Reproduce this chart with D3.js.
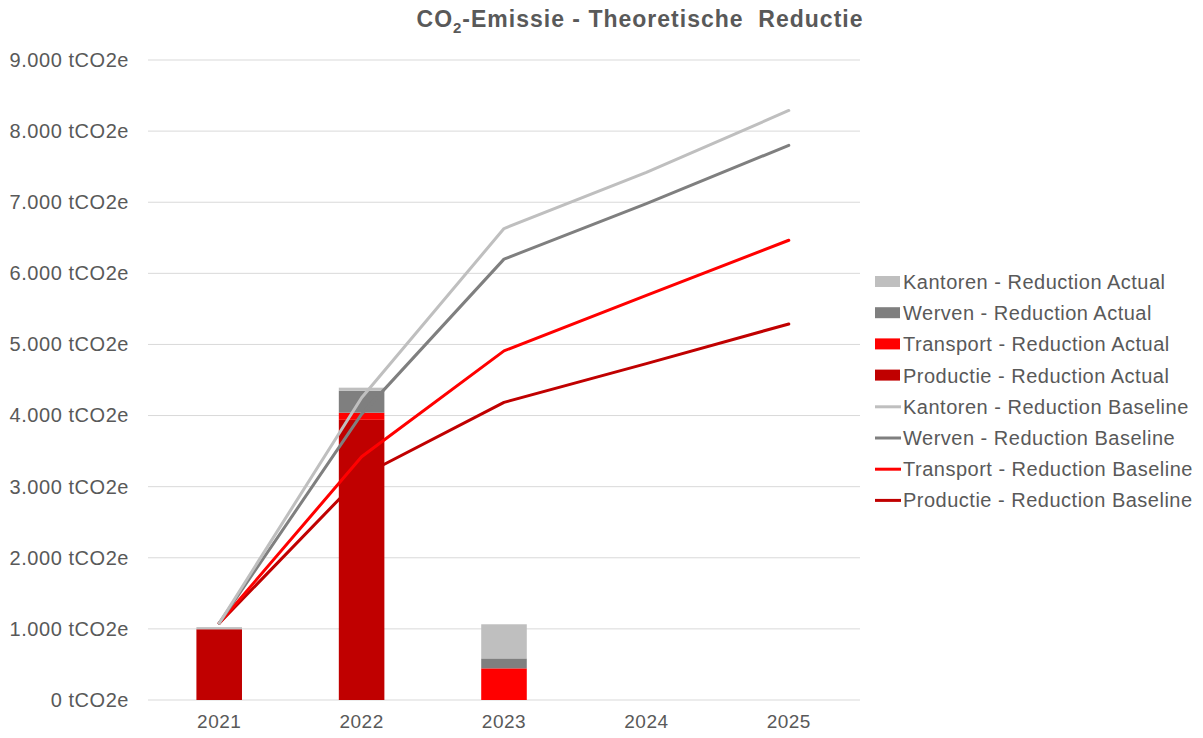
<!DOCTYPE html>
<html>
<head>
<meta charset="utf-8">
<script src="https://cdn.jsdelivr.net/npm/d3@7"></script>
<style>
  body { margin: 0; background: #fff; }
  text { font-family: "Liberation Sans", Arial, sans-serif; fill: #595959; }
</style>
</head>
<body>
<script>
//categories and series
var years = ["2021", "2022", "2023", "2024", "2025"];

//stacked bars (actual reduction)
var productieActual = [995, 3940, 0, 0, 0];
var transportActual = [0, 100, 445, 0, 0];
var wervenActual = [0, 310, 140, 0, 0];
var kantorenActual = [30, 42, 480, 0, 0];

//lines (baseline reduction)
var kantorenBaseline = [1080, 4250, 6630, 7420, 8290];
var wervenBaseline = [1080, 4020, 6200, 6980, 7800];
var transportBaseline = [1080, 3420, 4910, 5690, 6465];
var productieBaseline = [1080, 3150, 4185, 4730, 5288];

var yTicks = [0, 1000, 2000, 3000, 4000, 5000, 6000, 7000, 8000, 9000];

var w = 1203, h = 738;

var svg = d3.select("body")
    .append("svg")
    .attr("width", w)
    .attr("height", h);

//scales
var x = d3.scaleBand()
    .domain(years)
    .range([148, 860])
    .paddingInner(0.68)
    .paddingOuter(0.34);

var y = d3.scaleLinear()
    .domain([0, 9000])
    .range([700, 60]);

var fmt = function(d){
    return d3.format(",")(d).replace(/,/g, ".") + " tCO2e";
};

//gridlines
svg.append("g")
    .selectAll("line")
    .data(yTicks)
    .enter()
    .append("line")
    .attr("x1", 148)
    .attr("x2", 860)
    .attr("y1", function(d){ return y(d); })
    .attr("y2", function(d){ return y(d); })
    .style("stroke", "#d9d9d9")
    .style("stroke-width", 1);

//y axis labels
var yAxis = svg.append("g")
    .attr("transform", "translate(129,0)")
    .call(d3.axisLeft(y).tickValues(yTicks).tickFormat(fmt).tickSize(0).tickPadding(0));
yAxis.select(".domain").remove();
yAxis.selectAll("text")
    .style("font-size", "20px")
    .style("letter-spacing", "0.55px")
    .style("fill", "#595959")
    .style("font-family", "Liberation Sans, Arial, sans-serif");

//x axis labels
var xAxis = svg.append("g")
    .attr("transform", "translate(0,700)")
    .call(d3.axisBottom(x).tickSize(0).tickPadding(15));
xAxis.select(".domain").remove();
xAxis.selectAll("text")
    .style("font-size", "19px")
    .style("letter-spacing", "0.5px")
    .style("fill", "#595959")
    .style("font-family", "Liberation Sans, Arial, sans-serif");

//stacked bars
var barSeries = [
    { name: "Productie - Reduction Actual", values: productieActual, color: "#c00000" },
    { name: "Transport - Reduction Actual", values: transportActual, color: "#ff0000" },
    { name: "Werven - Reduction Actual", values: wervenActual, color: "#7f7f7f" },
    { name: "Kantoren - Reduction Actual", values: kantorenActual, color: "#bfbfbf" }
];

var table = years.map(function(yr, i){
    var row = { year: yr };
    barSeries.forEach(function(s){ row[s.name] = s.values[i]; });
    return row;
});

var stack = d3.stack().keys(barSeries.map(function(s){ return s.name; }));
var stacked = stack(table);

svg.append("g")
    .selectAll("g")
    .data(stacked)
    .enter()
    .append("g")
    .style("fill", function(d, i){ return barSeries[i].color; })
    .selectAll("rect")
    .data(function(d){ return d; })
    .enter()
    .append("rect")
    .attr("x", function(d){ return x(d.data.year); })
    .attr("width", x.bandwidth())
    .attr("y", function(d){ return y(d[1]); })
    .attr("height", function(d){ return y(d[0]) - y(d[1]); });

//lines
var lineSeries = [
    { name: "Kantoren - Reduction Baseline", values: kantorenBaseline, color: "#bfbfbf" },
    { name: "Werven - Reduction Baseline", values: wervenBaseline, color: "#7f7f7f" },
    { name: "Transport - Reduction Baseline", values: transportBaseline, color: "#ff0000" },
    { name: "Productie - Reduction Baseline", values: productieBaseline, color: "#c00000" }
];

var line = d3.line()
    .x(function(d, i){ return x(years[i]) + x.bandwidth() / 2; })
    .y(function(d){ return y(d); });

svg.append("g")
    .selectAll("path")
    .data(lineSeries.slice().reverse())
    .enter()
    .append("path")
    .attr("d", function(d){ return line(d.values); })
    .style("fill", "none")
    .style("stroke", function(d){ return d.color; })
    .style("stroke-width", 3)
    .style("stroke-linecap", "round")
    .style("stroke-linejoin", "round");

//title
var title = svg.append("text")
    .attr("x", 640)
    .attr("y", 27)
    .attr("text-anchor", "middle")
    .style("font-size", "23px")
    .style("letter-spacing", "1px")
    .style("font-weight", "bold");
title.append("tspan").text("CO");
title.append("tspan").attr("dy", 6).style("font-size", "15px").text("2");
title.append("tspan").attr("dy", -6).text("-Emissie - Theoretische  Reductie").style("white-space", "pre");

//legend
var legendItems = barSeries.slice().reverse().map(function(s){ return { name: s.name, color: s.color, type: "bar" }; })
    .concat(lineSeries.map(function(s){ return { name: s.name, color: s.color, type: "line" }; }));

var legend = svg.append("g")
    .selectAll("g")
    .data(legendItems)
    .enter()
    .append("g")
    .attr("transform", function(d, i){ return "translate(875," + (282 + i * 31.2) + ")"; });

legend.filter(function(d){ return d.type === "bar"; })
    .append("rect")
    .attr("x", 0)
    .attr("y", -6)
    .attr("width", 25)
    .attr("height", 11)
    .style("fill", function(d){ return d.color; });

legend.filter(function(d){ return d.type === "line"; })
    .append("line")
    .attr("x1", 0)
    .attr("x2", 26)
    .attr("y1", 0)
    .attr("y2", 0)
    .style("stroke", function(d){ return d.color; })
    .style("stroke-width", 3);

legend.append("text")
    .attr("x", 28)
    .attr("y", 0)
    .attr("dy", "0.35em")
    .style("font-size", "20px")
    .style("letter-spacing", "0.5px")
    .text(function(d){ return d.name; });
</script>
</body>
</html>
